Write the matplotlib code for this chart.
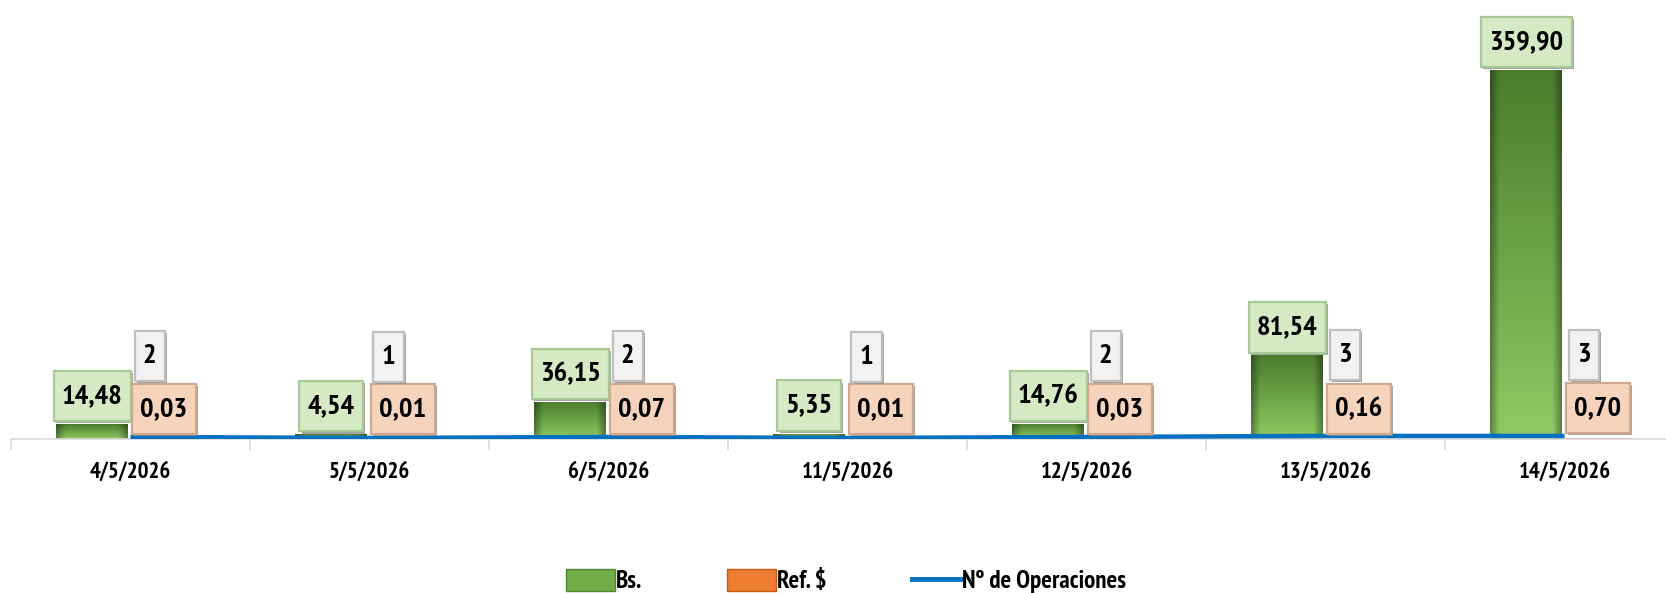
import matplotlib
matplotlib.use("Agg")
import matplotlib.pyplot as plt
import numpy as np
from matplotlib.patches import Patch
from matplotlib.lines import Line2D
from matplotlib.path import Path
from matplotlib.colors import to_rgb
from matplotlib import font_manager as fm
import matplotlib.patheffects as pe

categories = ["4/5/2026", "5/5/2026", "6/5/2026", "11/5/2026", "12/5/2026", "13/5/2026", "14/5/2026"]
bs_values = [14.48, 4.54, 36.15, 5.35, 14.76, 81.54, 359.90]
ref_values = [0.03, 0.01, 0.07, 0.01, 0.03, 0.16, 0.70]
operaciones = [2, 1, 2, 1, 2, 3, 3]
series_names = ["Bs.", "Ref. $", "Nº de Operaciones"]

available = {f.name for f in fm.fontManager.ttflist}
preferred = ["PT Sans Narrow", "Fira Sans Condensed", "Archivo Narrow",
             "Roboto Condensed", "Barlow Condensed"]
FONT = [f for f in preferred if f in available][:1] + ["DejaVu Sans"]
plt.rcParams['font.family'] = FONT


def fmt(v):
    return f"{v:.2f}".replace(".", ",")


class PadBox:
    """Square box with separate horizontal / vertical padding."""
    def __init__(self, px, py):
        self.px, self.py = px, py

    def __call__(self, x0, y0, width, height, mutation_size):
        padx = self.px * mutation_size
        pady = self.py * mutation_size
        x0, y0 = x0 - padx, y0 - pady
        x1, y1 = x0 + width + 2 * padx, y0 + height + 2 * pady
        return Path([(x0, y0), (x1, y0), (x1, y1), (x0, y1), (x0, y0)],
                    [Path.MOVETO, Path.LINETO, Path.LINETO, Path.LINETO, Path.CLOSEPOLY])


W, H = 1666, 593
fig = plt.figure(figsize=(W / 100, H / 100), dpi=100)
ax = fig.add_axes([11 / W, 1 - 439 / H, 1673 / W, 439 / H])

x = np.arange(len(categories))
green_off, green_w = -0.31, 0.30
orange_off, orange_w = -0.005, 0.29

gbars = ax.bar(x + green_off, bs_values, width=green_w, align='edge',
               color='#6aa84f', edgecolor='none', zorder=2)
obars = ax.bar(x + orange_off, ref_values, width=orange_w, align='edge',
               color='#ed7d31', edgecolor='none', zorder=2)

# gradient fill for green bars
top_c = np.array(to_rgb('#4b7c2c'))
bot_c = np.array(to_rgb('#8fcb63'))
ny, nx = 200, 60
t = np.linspace(0, 1, ny)[:, None, None]
grad = top_c * (1 - t) + bot_c * t
grad = np.repeat(grad, nx, axis=1)
xs = np.linspace(-1, 1, nx)
edge = (1 - 0.35 * np.clip((np.abs(xs) - 0.75) / 0.25, 0, 1))[None, :, None]
grad = grad * edge
for b in gbars:
    x0, w, h = b.get_x(), b.get_width(), b.get_height()
    im = ax.imshow(grad, extent=(x0, x0 + w, 0, h), aspect='auto',
                   origin='upper', zorder=2.1, interpolation='bilinear')
    im.set_clip_path(b)

ax.plot(x, operaciones, color='#0070c0', lw=3.2, zorder=3, solid_capstyle='butt')

ax.set_xlim(-0.5, len(categories) - 0.5)
ax.set_ylim(0, 428.2)

for s in ['top', 'right', 'left']:
    ax.spines[s].set_visible(False)
ax.spines['bottom'].set_color('#d9d9d9')
ax.spines['bottom'].set_linewidth(1.2)
ax.set_yticks([])
ax.set_xticks(x)
ax.set_xticklabels(categories, fontsize=16.5, fontweight='bold')
ax.tick_params(axis='x', which='major', length=0, pad=16)
ax.set_xticks(np.arange(len(categories) + 1) - 0.5, minor=True)
ax.tick_params(axis='x', which='minor', length=8, color='#d9d9d9', width=1.2)


def label(xv, yv, text, face, edge, dy):
    t = ax.annotate(text, xy=(xv, yv), xytext=(0, dy), textcoords='offset pixels',
                    ha='center', va='center', fontsize=20.5, fontweight='bold',
                    color='black', zorder=5,
                    bbox=dict(boxstyle=PadBox(0.29, 0.46), facecolor=face,
                              edgecolor=edge, linewidth=1.6))
    t.get_bbox_patch().set_path_effects([
        pe.SimplePatchShadow(offset=(1.5, -1.5), shadow_rgbFace='#8c8c8c', alpha=0.8),
        pe.Normal()])
    return t


for i in range(len(categories)):
    label(x[i] + green_off + green_w / 2, bs_values[i], fmt(bs_values[i]),
          '#d4e9c4', '#a9c994', 28)
    label(x[i] + orange_off + orange_w / 2, ref_values[i], fmt(ref_values[i]),
          '#f6d3bd', '#cfa88e', 30)
    label(x[i] + 0.08, operaciones[i], str(operaciones[i]),
          '#f2f2f2', '#bfbfbf', 81)

handles = [Patch(facecolor='#70ad47', edgecolor='#548235'),
           Patch(facecolor='#ed7d31', edgecolor='#c55a11'),
           Line2D([0], [0], color='#0070c0', lw=3.5)]
fig.legend(handles, series_names, loc='center', bbox_to_anchor=(846 / W, 1 - 581 / H),
           ncol=3, frameon=False, prop={'size': 18, 'weight': 'bold'},
           handlelength=1.95, handleheight=1.0, handletextpad=0.05, columnspacing=3.4,
           borderpad=0.1)

fig.savefig('out.png', dpi=100)
